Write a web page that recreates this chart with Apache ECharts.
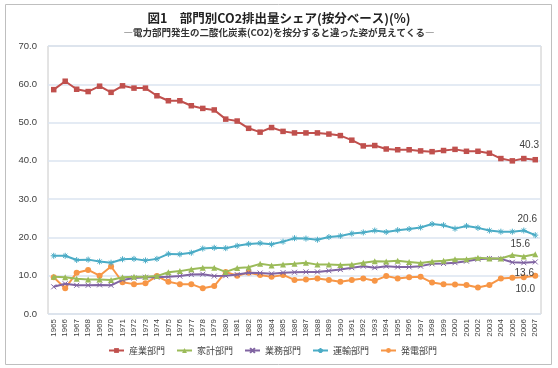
<!DOCTYPE html>
<html><head><meta charset="utf-8">
<script src="https://cdn.jsdelivr.net/npm/echarts@6/dist/echarts.min.js"></script>
<style>html,body{margin:0;padding:0;background:#fff}#c{width:558px;height:368px}</style>
</head><body><div id="c"></div>
<script>
const years = ['1965','1966','1967','1968','1969','1970','1971','1972','1973','1974','1975','1976','1977','1978','1979','1980','1981','1982','1983','1984','1985','1986','1987','1988','1989','1990','1991','1992','1993','1994','1995','1996','1997','1998','1999','2000','2001','2002','2003','2004','2005','2006','2007'];
const industry = [58.6,60.8,58.7,58.1,59.5,57.9,59.6,59.0,59.0,57.0,55.7,55.7,54.4,53.7,53.3,50.9,50.4,48.5,47.5,48.7,47.7,47.3,47.3,47.3,47.0,46.6,45.4,43.9,44.0,43.1,42.9,42.9,42.6,42.4,42.7,43.0,42.5,42.5,42.0,40.6,40.0,40.6,40.3];
const household = [9.7,9.6,9.2,9.0,9.0,8.9,9.6,9.7,9.7,9.9,10.9,11.2,11.7,12.1,12.1,11.0,12.0,12.2,13.1,12.7,12.9,13.1,13.4,12.9,12.9,12.8,12.9,13.4,13.8,13.7,13.9,13.6,13.3,13.7,13.9,14.3,14.3,14.7,14.5,14.5,15.4,15.0,15.6];
const commercial = [7.1,7.9,7.5,7.5,7.6,7.5,8.9,9.4,9.6,9.6,9.7,9.9,10.3,10.4,9.9,10.0,10.3,10.8,10.7,10.5,10.8,10.9,11.0,11.0,11.3,11.6,12.1,12.5,12.1,12.5,12.3,12.3,12.5,13.1,13.2,13.4,13.8,14.3,14.5,14.4,13.5,13.4,13.6];
const transport = [15.2,15.2,14.1,14.2,13.7,13.4,14.3,14.4,14.0,14.4,15.7,15.6,16.0,17.1,17.3,17.2,17.8,18.3,18.5,18.2,18.9,19.8,19.7,19.4,20.1,20.4,21.0,21.3,21.8,21.4,21.9,22.2,22.6,23.5,23.2,22.3,23.0,22.5,21.8,21.5,21.5,21.8,20.6];
const power = [9.6,6.7,10.8,11.5,10.0,12.4,8.3,7.8,8.0,9.9,8.4,7.8,7.8,6.7,7.3,11.0,10.0,10.8,10.2,9.7,10.2,8.9,9.0,9.3,8.9,8.4,8.9,9.3,8.7,9.9,9.3,9.6,9.7,8.2,7.8,7.7,7.6,6.9,7.6,9.3,9.5,9.6,10.0];
const seriesNames = ['産業部門','家計部門','業務部門','運輸部門','発電部門'];
const yTicks = [0,10,20,30,40,50,60,70];

const colors = ['#c0504d','#9bbb59','#8064a2','#4bacc6','#f79646'];
const asterisk = 'path://M5,0L5,10M0,5L10,5M1.5,1.5L8.5,8.5M8.5,1.5L1.5,8.5';
const cross = 'path://M0,0L10,10M10,0L0,10';
const lastLabel = [
  {position:'top', offset:[-6,-2]},
  {position:'top', offset:[-15,3]},
  {position:'bottom', offset:[-11,-2]},
  {position:'top', offset:[-8,-2]},
  {position:'bottom', offset:[-10,1]}
];
function mk(vals, i){
  return vals.map((v,k)=> k===vals.length-1 ? {value:v, label:Object.assign({show:true, color:'#404040', fontSize:10, fontFamily:'Liberation Sans', formatter:(p)=>p.value.toFixed(1)}, lastLabel[i])} : v);
}
const sets = [industry, household, commercial, transport, power];
const syms = [['rect',5.5],['triangle',6],[cross,5],[asterisk,6],['circle',6]];
const series = sets.map((vals,i)=>({
  name: seriesNames[i], type:'line', data: mk(vals,i),
  symbol: syms[i][0], symbolSize: syms[i][1], showAllSymbol:true,
  lineStyle:{color:colors[i], width:2},
  itemStyle:{color:colors[i], borderColor:colors[i], borderWidth:(i===2||i===3)?1:0},
  z: 10-i
}));

const chart = echarts.init(document.getElementById('c'), null, {renderer:'canvas'});
chart.setOption({
  animation:false,
  color: colors,
  title:{
    text:'図1　部門別CO2排出量シェア(按分ベース)(%)',
    subtext:'―電力部門発生の二酸化炭素(CO2)を按分すると違った姿が見えてくる―',
    left:'center', top:7, itemGap:3,
    textStyle:{fontSize:12.5, fontWeight:'bold', color:'#222', fontFamily:'Noto Sans CJK JP'},
    subtextStyle:{fontSize:9.5, fontWeight:'bold', color:'#333', fontFamily:'Noto Sans CJK JP'}
  },
  graphic:[{type:'rect', shape:{x:5.5,y:4.5,width:546,height:360}, style:{fill:'none', stroke:'#bfbfbf', lineWidth:1}, z:-1}],
  grid:{left:48, right:17, top:46, bottom:54, show:true, borderColor:'#c8c8c8', borderWidth:1},
  legend:{
    bottom:8, left:103, itemWidth:15, itemHeight:6, itemGap:11,
    textStyle:{fontSize:9, color:'#404040', fontFamily:'Noto Sans CJK JP'},
    data: seriesNames
  },
  xAxis:{
    type:'category', data:years, boundaryGap:true,
    axisLine:{show:false}, axisTick:{show:false},
    axisLabel:{rotate:90, interval:0, fontSize:8, color:'#404040', margin:5, fontFamily:'Liberation Sans'}
  },
  yAxis:{
    type:'value', min:yTicks[0], max:yTicks[yTicks.length-1], interval:10,
    axisLine:{show:false}, axisTick:{show:false},
    axisLabel:{formatter:(v)=>v.toFixed(1), fontSize:9.5, color:'#404040', margin:11, fontFamily:'Liberation Sans'},
    splitLine:{lineStyle:{color:'#dbe5f1', width:1.5}}
  },
  series: series
});
</script></body></html>
